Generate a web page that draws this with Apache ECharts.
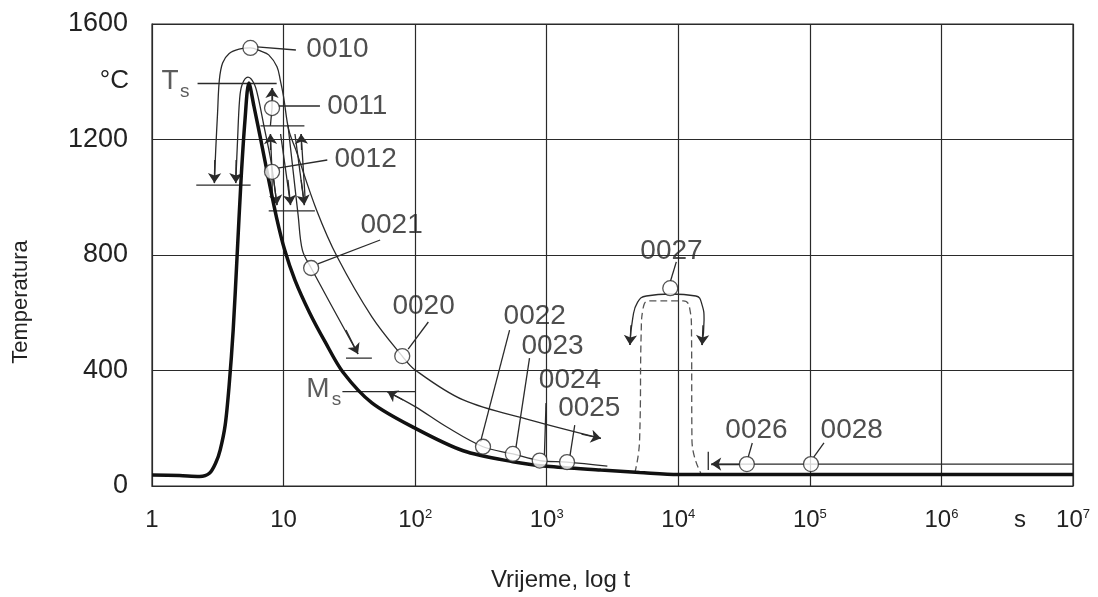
<!DOCTYPE html>
<html><head><meta charset="utf-8">
<script src="https://cdn.jsdelivr.net/npm/echarts@6/dist/echarts.min.js"></script>
<style>html,body{margin:0;padding:0;background:#fff}#c{width:1098px;height:597px}</style>
</head><body><div id="c"></div>
<script>
// ---- axis ticks ----
const xTickValues = [1, 10, 100, 1000, 10000, 100000, 1000000, 10000000];
const xTickLabels = ['1', '10', '10{sup|2}', '10{sup|3}', '10{sup|4}', '10{sup|5}', '10{sup|6}', '10{sup|7}'];
const yTickValues = [0, 400, 800, 1200, 1600];

// ---- curves [time s, temperature °C] ----
const thickCycle = [[1,38],[1.62,36],[2.30,33],[2.73,44],[3.07,83],[3.30,125],[3.60,211],[3.86,350],[4.14,540],[4.43,793],[4.75,1060],[5.09,1267],[5.45,1396],[5.95,1316],[6.72,1198],[7.71,1060],[8.86,928],[10.2,817],[12.2,713],[15.7,602],[20.7,499],[28.2,395],[46.9,288],[100,200],[232,122],[553,84],[1000,68],[2580,55],[5080,47],[10000,40],[10000000,40]];
const outerLoop0010 = [[2.98,1049],[3.05,1164],[3.15,1292],[3.25,1406],[3.44,1465],[3.86,1498],[4.59,1513],[5.60,1517],[6.72,1506],[7.71,1493],[8.91,1452],[9.44,1406],[10,1348],[10.95,1233],[12.4,1164],[17.8,956],[25.6,793],[46.9,586],[79.8,450],[100,402],[232,298],[740,229],[2580,165]];
const innerLoop = [[4.33,1049],[4.47,1198],[4.63,1337],[4.83,1389],[5.36,1416],[5.95,1395],[6.38,1350],[7.07,1250],[7.99,1129],[8.91,973]];
const curve0021 = [[10.8,1250],[11.8,1094],[12.9,938],[13.9,817],[16.2,755],[36.8,457]];
const curveMs = [[61.5,327],[100,275],[173,205],[328,136],[553,111],[885,88],[1427,83],[2890,69]];
const arc0027 = [[4290,488],[4510,582],[4910,637],[5710,658],[8730,665],[13600,658],[15100,630],[15700,575],[15100,488]];
const dashed0027 = [[4670,45],[5080,159],[5230,540],[5390,613],[6010,641],[10900,641],[12200,616],[12600,540],[12700,159],[14800,45]];

// ---- straight segments (bars, short paths, leader lines) ----
const straightSegments = [
  [[2.17,1042],[5.62,1042]],      // 0010 bar
  [[2.22,1394],[8.86,1394]],      // Ts bar
  [[6.68,1247],[14.4,1247]],      // upper bar
  [[7.71,953],[17.3,953]],        // lower bar
  [[29.8,443],[46.9,443]],        // 0021 bar
  [[28.0,327],[100,327]],         // Ms line
  [[7.94,1247],[8.17,1309],[8.17,1378]],
  [[8.20,990],[8.17,1088],[7.94,1219]],
  [[14.6,990],[13.6,1219]],
  [[9.49,1219],[11.3,973]],
  [[12.2,1219],[14.4,973]],
  [[10000000,76],[17800,76]],     // 0026/0028 line
  [[16900,55],[16900,119]],       // tick
  // leader lines
  [[6.27,1521],[12.4,1510]],
  [[9.17,1316],[18.9,1316]],
  [[9.01,1101],[21.5,1129]],
  [[18.2,769],[54.2,852]],
  [[88.5,474],[126,568]],
  [[314,153],[522,540]],
  [[583,132],[740,443]],
  [[961,107],[988,287]],
  [[1502,104],[1633,211]],
  [[8730,710],[9660,776]],
  [[34000,100],[36500,149]],
  [[107000,100],[128000,149]]
];

// ---- arrows: [from, tip] ----
const arrows = [
  [[3.00,1129],[2.98,1049]],
  [[4.36,1129],[4.33,1049]],
  [[8.41,1060],[8.91,973]],
  [[10.8,1060],[11.3,973]],
  [[13.6,1060],[14.4,973]],
  [[8.17,1336],[8.17,1378]],
  [[7.98,1164],[7.94,1219]],
  [[13.7,1164],[13.6,1219]],
  [[29.8,540],[36.8,457]],
  [[1840,180],[2580,165]],
  [[80.9,298],[61.5,327]],
  [[4370,557],[4290,488]],
  [[15400,557],[15200,488]],
  [[29500,76],[17800,76]]
];

// ---- circles and labels ----
const circles = [[5.60,1517],[8.17,1309],[8.17,1088],[16.2,755],[79.8,450],[328,136],[553,111],[885,88],[1427,83],[8690,685],[33200,76],[102000,76]];
const labelTexts = ['0010','0011','0012','0021','0020','0022','0023','0024','0025','0027','0026','0028'];
const labelPos = [[25.7,1513],[36.3,1316],[42.0,1132],[66.2,904],[116,623],[811,589],[1107,485],[1502,367],[2106,270],[8880,814],[39300,194],[208000,194]];
const symbolTexts = ['T','s','M','s'];
const symbolPos = [[1.37,1403],[1.77,1364],[18.2,336],[25.3,298]];
const symbolSizes = [28,19,28,19];

const INK = '#2a2a2a';
const FONT = '"Liberation Sans", Arial, sans-serif';

function curve(data, extra) {
  return Object.assign({
    type: 'line', data: data, symbol: 'none', smooth: 0.35, silent: true,
    lineStyle: { color: INK, width: 1.3 }, z: 3, animation: false
  }, extra || {});
}

const chart = echarts.init(document.getElementById('c'));
chart.setOption({
  animation: false,
  backgroundColor: '#fff',
  grid: { left: 152, right: 25, top: 24, bottom: 111, show: true, borderColor: INK, borderWidth: 1.2 },
  xAxis: {
    type: 'log', logBase: 10, min: 1, max: 10000000,
    name: 'Vrijeme, log t', nameLocation: 'middle', nameGap: 82,
    nameTextStyle: { fontSize: 24, color: '#222', fontFamily: FONT, padding: [0, 104, 0, 0] },
    axisLine: { show: true, lineStyle: { color: INK } },
    axisTick: { show: false },
    splitLine: { show: true, lineStyle: { color: INK, width: 1.2 } },
    minorSplitLine: { show: false },
    axisLabel: {
      margin: 22, color: '#222', fontSize: 24, fontFamily: FONT,
      formatter: function (v) { const i = xTickValues.findIndex(t => Math.abs(Math.log10(t) - Math.log10(v)) < 1e-6); return i >= 0 ? xTickLabels[i] : ''; },
      rich: { sup: { fontSize: 13, verticalAlign: 'top', fontFamily: FONT, color: '#222' } }
    }
  },
  yAxis: {
    type: 'value', min: 0, max: 1600, interval: 400,
    name: 'Temperatura', nameLocation: 'middle', nameGap: 120, nameRotate: 90,
    nameTextStyle: { fontSize: 22, color: '#222', fontFamily: FONT, padding: [0, 94, 0, 0] },
    axisLine: { show: true, lineStyle: { color: INK } },
    axisTick: { show: false },
    splitLine: { show: true, lineStyle: { color: INK, width: 1.2 } },
    axisLabel: { margin: 24, color: '#222', fontSize: 27, fontFamily: FONT,
      formatter: function (v) { return yTickValues.indexOf(v) >= 0 ? String(v) : ''; } }
  },
  graphic: [
    { type: 'text', x: 129, y: 81, style: { text: '°C', fontSize: 26, fill: '#222', font: '26px "Liberation Sans", Arial', textAlign: 'right', textVerticalAlign: 'middle' } },
    { type: 'text', x: 1020, y: 520, style: { text: 's', fontSize: 24, fill: '#222', font: '24px "Liberation Sans", Arial', textAlign: 'center', textVerticalAlign: 'middle' } }
  ],
  series: [
    curve(thickCycle, { lineStyle: { color: '#111', width: 3.5 }, smooth: 0.3, z: 4 }),
    curve(outerLoop0010),
    curve(innerLoop),
    curve(curve0021),
    curve(curveMs),
    curve(arc0027, { smooth: 0.5 }),
    curve(dashed0027, { smooth: 0.5, lineStyle: { color: '#555', width: 1.3, type: [7, 4] } }),
    { type: 'lines', coordinateSystem: 'cartesian2d', polyline: true, silent: true, z: 3,
      data: straightSegments.map(s => ({ coords: s })), symbol: 'none',
      lineStyle: { color: INK, width: 1.3, opacity: 1 } },
    { type: 'lines', coordinateSystem: 'cartesian2d', silent: true, z: 4,
      data: arrows.map(a => ({ coords: a })), symbol: ['none', 'arrow'], symbolSize: 10,
      lineStyle: { color: INK, width: 1.3, opacity: 1 } },
    { type: 'scatter', data: circles, symbol: 'circle', symbolSize: 15, silent: true, z: 6,
      itemStyle: { color: '#fff', borderColor: INK, borderWidth: 1.3 } },
    { type: 'scatter', silent: true, z: 7, symbolSize: 1, itemStyle: { color: 'rgba(0,0,0,0)' },
      data: labelPos.map((p, i) => ({ value: p, name: labelTexts[i] })),
      label: { show: true, position: 'inside', formatter: '{b}', fontSize: 28, color: '#222', fontFamily: FONT } },
    { type: 'scatter', silent: true, z: 7, symbolSize: 1, itemStyle: { color: 'rgba(0,0,0,0)' },
      data: symbolPos.map((p, i) => ({ value: p, name: symbolTexts[i], label: { fontSize: symbolSizes[i] } })),
      label: { show: true, position: 'inside', formatter: '{b}', color: '#333', fontFamily: FONT } }
  ]
});
</script></body></html>
